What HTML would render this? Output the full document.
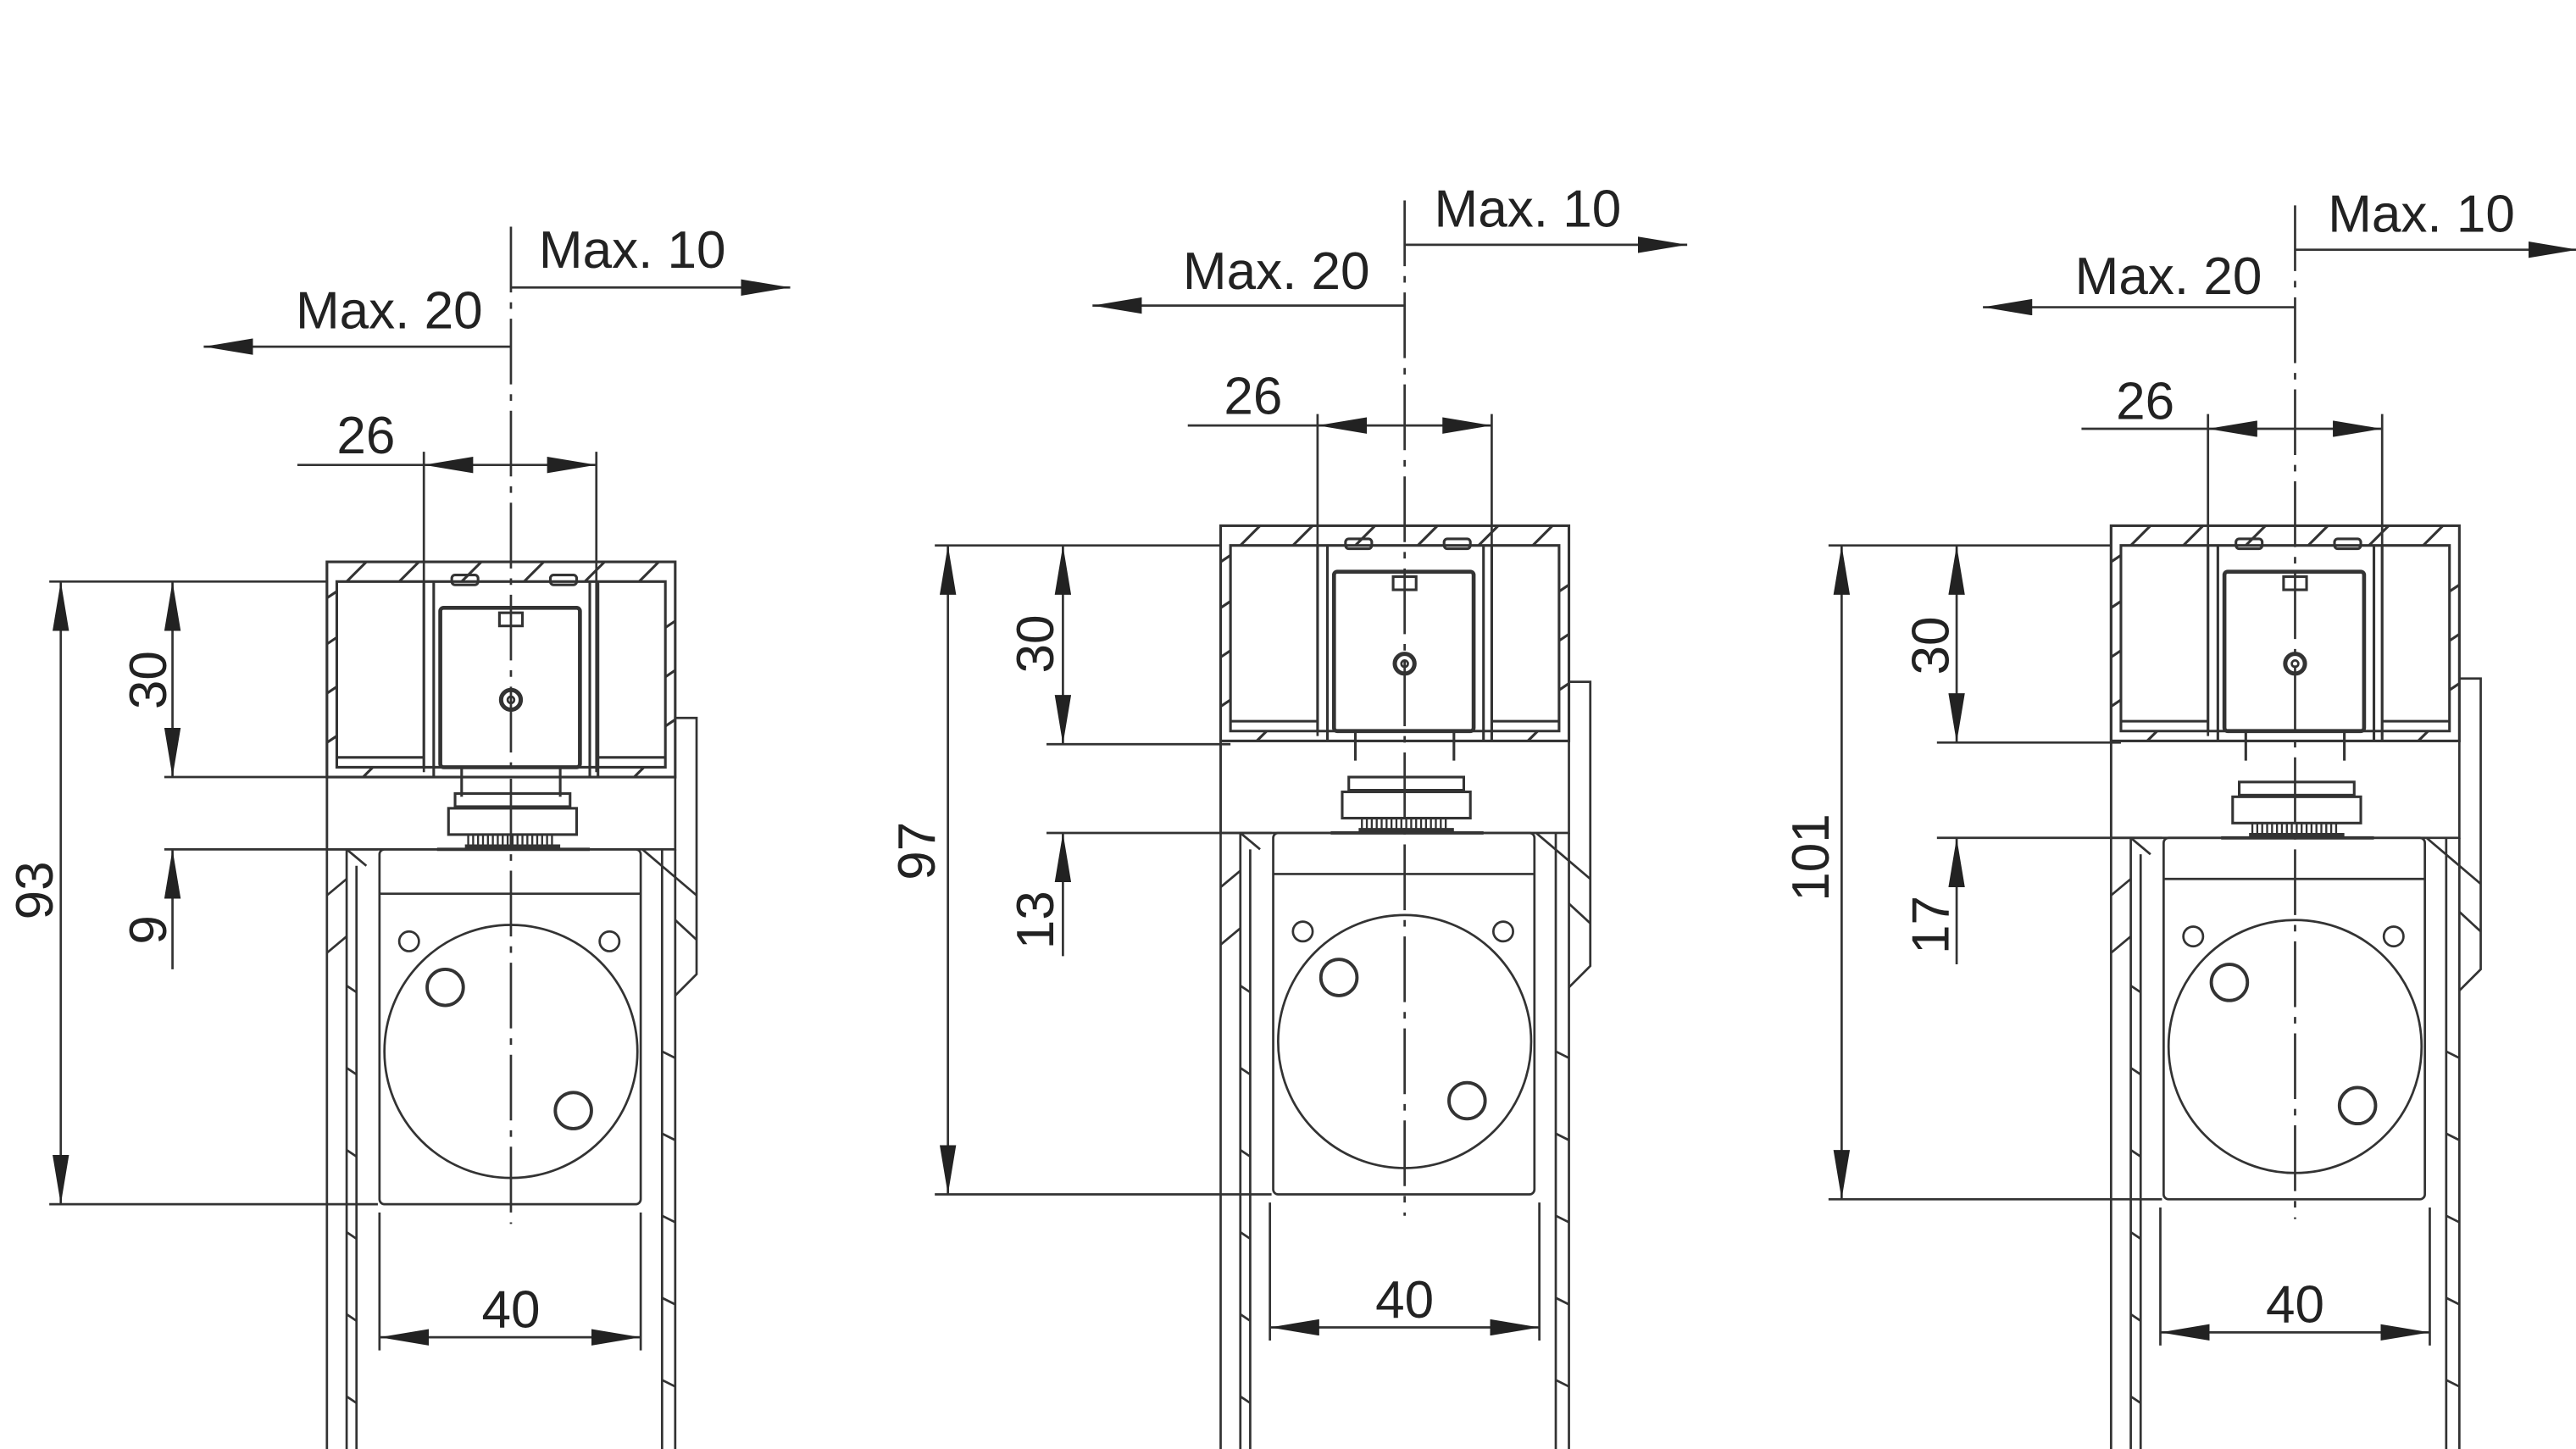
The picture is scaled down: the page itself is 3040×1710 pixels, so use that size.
<!DOCTYPE html>
<html><head><meta charset="utf-8"><style>
html,body{margin:0;padding:0;background:#fff}
svg{display:block}
text{font-family:"Liberation Sans",sans-serif;font-size:32px;fill:#222}
</style></head><body>
<svg width="3040" height="1710" viewBox="0 0 1568 882" xmlns="http://www.w3.org/2000/svg">
<defs>
<marker id="a" viewBox="0 0 30 10" refX="30" refY="5" markerWidth="30" markerHeight="10" markerUnits="userSpaceOnUse" orient="auto-start-reverse"><path d="M0,0 L30,5 L0,10z" fill="#222"/></marker>
<g id="top" fill="none" stroke="#333" stroke-width="1.6">
  <rect x="-112" y="0" width="212" height="131"/>
  <path d="M-106,12 H94 V125 H-106 Z"/>
  <path d="M-53,12 V125 M-47,12 V131 M53,12 V131 M48,12 V131"/>
  <path d="M-106,119 H-53 M53,119 H94"/>
  <path d="M-100,12 L-88,0 M-68,12 L-56,0 M-30,12 L-18,0 M8,12 L20,0 M45,12 L57,0 M78,12 L90,0"/>
  <path d="M-112,22 L-106,18 M-112,50 L-106,46 M-112,80 L-106,76 M-112,110 L-106,106 M94,40 L100,36 M94,70 L100,66 M94,100 L100,96 M-90,131 L-84,125 M75,131 L81,125"/>
  <rect x="-36" y="8" width="16" height="6" rx="2"/><rect x="24" y="8" width="16" height="6" rx="2"/>
  <rect x="-43" y="28" width="85" height="97" rx="2" stroke-width="2.4"/>
  <rect x="-7" y="31" width="14" height="8"/>
  <circle cx="0" cy="84" r="6" stroke-width="2.6"/><circle cx="0" cy="84" r="2" stroke-width="1.4"/>
  <path d="M-30,125 V143 M30,125 V143"/>
</g>
<g id="bot" fill="none" stroke="#333" stroke-width="1.4">
  <circle cx="0" cy="-93" r="77"/>
  <circle cx="-62" cy="-160" r="6"/><circle cx="60" cy="-160" r="6"/>
  <circle cx="-40" cy="-132" r="11" stroke-width="2"/><circle cx="38" cy="-57" r="11" stroke-width="2"/>
</g>
<g id="gear" fill="none" stroke="#333" stroke-width="1.6">
  <rect x="-34" y="-34" width="70" height="8"/>
  <rect x="-38" y="-25" width="78" height="16"/>
  <path d="M-26,-9 V-2 M-23,-9 V-2 M-20,-9 V-2 M-17,-9 V-2 M-14,-9 V-2 M-11,-9 V-2 M-8,-9 V-2 M-5,-9 V-2 M-2,-9 V-2 M1,-9 V-2 M4,-9 V-2 M7,-9 V-2 M10,-9 V-2 M13,-9 V-2 M16,-9 V-2 M19,-9 V-2 M22,-9 V-2 M25,-9 V-2" stroke-width="1.2"/>
  <path d="M-45,0 H48 M-28,-2 H30" stroke-width="2"/>
</g>
</defs>

<!-- ============ Drawing 1 ============ -->
<g transform="translate(311,0)" fill="none" stroke="#333" stroke-width="1.4">
  <use href="#top" transform="translate(0,342)"/>
  <rect x="-112" y="473" width="212" height="44"/>
  <use href="#gear" transform="translate(0,517)"/>
  <!-- walls -->
  <path d="M-112,342 V882 M-100,517 V882 M-94,527 V882 M92,517 V882 M100,517 V882"/>
  <path d="M100,437 H113 V593 L100,606"/>
  <path d="M-112,545 L-100,535 M-112,580 L-100,570 M-100,517 L-88,527 M80,517 L113,545 M100,560 L113,572 M-100,600 L-94,604 M-100,650 L-94,654 M-100,700 L-94,704 M-100,750 L-94,754 M-100,800 L-94,804 M-100,850 L-94,854 M92,640 L100,644 M92,690 L100,694 M92,740 L100,744 M92,790 L100,794 M92,840 L100,844"/>
  <rect x="-80" y="517" width="159" height="216" rx="3"/>
  <path d="M-80,544 H79"/>
  <use href="#bot" transform="translate(0,733)"/>
  <!-- centerline -->
  <path d="M0,138 V745" stroke-dasharray="40,6,4,6"/>
  <!-- Max dims -->
  <path d="M0,175 H170" marker-end="url(#a)"/>
  <path d="M0,211 H-187" marker-end="url(#a)"/>
  <!-- 26 -->
  <path d="M-53,275 V470 M52,275 V470"/>
  <path d="M-130,283 H-53"/>
  <path d="M-53,283 H52" marker-start="url(#a)" marker-end="url(#a)"/>
  <!-- 40 -->
  <path d="M-80,738 V822 M79,738 V822"/>
  <path d="M-80,814 H79" marker-start="url(#a)" marker-end="url(#a)"/>
  <!-- left dims -->
  <path d="M-281,354 H-112 M-211,473 H-106 M-211,517 H-81 M-281,733 H-81"/>
  <path d="M-206,354 V473" marker-start="url(#a)" marker-end="url(#a)"/>
  <path d="M-206,590 V517" marker-end="url(#a)"/>
  <path d="M-274,354 V733" marker-start="url(#a)" marker-end="url(#a)"/>
</g>
<text x="328" y="163">Max. 10</text>
<text x="180" y="200">Max. 20</text>
<text x="205" y="276">26</text>
<text x="311" y="808" text-anchor="middle">40</text>
<text transform="translate(101,414) rotate(-90)" text-anchor="middle">30</text>
<text transform="translate(101,566) rotate(-90)" text-anchor="middle">9</text>
<text transform="translate(32,542) rotate(-90)" text-anchor="middle">93</text>

<!-- ============ Drawing 2 ============ -->
<g transform="translate(855,0)" fill="none" stroke="#333" stroke-width="1.4">
  <use href="#top" transform="translate(0,320)"/>
  <rect x="-112" y="451" width="212" height="56"/>
  <use href="#gear" transform="translate(0,507)"/>
  <path d="M-112,320 V882 M-100,507 V882 M-94,517 V882 M92,507 V882 M100,507 V882"/>
  <path d="M100,415 H113 V588 L100,601"/>
  <path d="M-112,540 L-100,530 M-112,575 L-100,565 M-100,507 L-88,517 M80,507 L113,535 M100,550 L113,562 M-100,600 L-94,604 M-100,650 L-94,654 M-100,700 L-94,704 M-100,750 L-94,754 M-100,800 L-94,804 M-100,850 L-94,854 M92,640 L100,644 M92,690 L100,694 M92,740 L100,744 M92,790 L100,794 M92,840 L100,844"/>
  <rect x="-80" y="507" width="159" height="220" rx="3"/>
  <path d="M-80,532 H79"/>
  <use href="#bot" transform="translate(0,727)"/>
  <path d="M0,122 V740" stroke-dasharray="40,6,4,6"/>
  <path d="M0,149 H172" marker-end="url(#a)"/>
  <path d="M0,186 H-190" marker-end="url(#a)"/>
  <path d="M-53,252 V448 M53,252 V448"/>
  <path d="M-132,259 H-53"/>
  <path d="M-53,259 H53" marker-start="url(#a)" marker-end="url(#a)"/>
  <path d="M-82,732 V816 M82,732 V816"/>
  <path d="M-82,808 H82" marker-start="url(#a)" marker-end="url(#a)"/>
  <path d="M-286,332 H-112 M-218,453 H-106 M-218,507 H-81 M-286,727 H-81"/>
  <path d="M-208,332 V453" marker-start="url(#a)" marker-end="url(#a)"/>
  <path d="M-208,582 V507" marker-end="url(#a)"/>
  <path d="M-278,332 V727" marker-start="url(#a)" marker-end="url(#a)"/>
</g>
<text x="873" y="138">Max. 10</text>
<text x="720" y="176">Max. 20</text>
<text x="745" y="252">26</text>
<text x="855" y="802" text-anchor="middle">40</text>
<text transform="translate(641,392) rotate(-90)" text-anchor="middle">30</text>
<text transform="translate(641,560) rotate(-90)" text-anchor="middle">13</text>
<text transform="translate(569,518) rotate(-90)" text-anchor="middle">97</text>

<!-- ============ Drawing 3 ============ -->
<g transform="translate(1397,0)" fill="none" stroke="#333" stroke-width="1.4">
  <use href="#top" transform="translate(0,320)"/>
  <rect x="-112" y="451" width="212" height="59"/>
  <use href="#gear" transform="translate(0,510)"/>
  <path d="M-112,320 V882 M-100,510 V882 M-94,520 V882 M92,510 V882 M100,510 V882"/>
  <path d="M100,413 H113 V590 L100,603"/>
  <path d="M-112,545 L-100,535 M-112,580 L-100,570 M-100,510 L-88,520 M80,510 L113,538 M100,555 L113,567 M-100,600 L-94,604 M-100,650 L-94,654 M-100,700 L-94,704 M-100,750 L-94,754 M-100,800 L-94,804 M-100,850 L-94,854 M92,640 L100,644 M92,690 L100,694 M92,740 L100,744 M92,790 L100,794 M92,840 L100,844"/>
  <rect x="-80" y="510" width="159" height="220" rx="3"/>
  <path d="M-80,535 H79"/>
  <use href="#bot" transform="translate(0,730)"/>
  <path d="M0,125 V742" stroke-dasharray="40,6,4,6"/>
  <path d="M0,152 H172" marker-end="url(#a)"/>
  <path d="M0,187 H-190" marker-end="url(#a)"/>
  <path d="M-53,252 V448 M53,252 V448"/>
  <path d="M-130,261 H-53"/>
  <path d="M-53,261 H53" marker-start="url(#a)" marker-end="url(#a)"/>
  <path d="M-82,735 V819 M82,735 V819"/>
  <path d="M-82,811 H82" marker-start="url(#a)" marker-end="url(#a)"/>
  <path d="M-284,332 H-112 M-218,452 H-106 M-218,510 H-81 M-284,730 H-81"/>
  <path d="M-206,332 V452" marker-start="url(#a)" marker-end="url(#a)"/>
  <path d="M-206,587 V510" marker-end="url(#a)"/>
  <path d="M-276,332 V730" marker-start="url(#a)" marker-end="url(#a)"/>
</g>
<text x="1417" y="141">Max. 10</text>
<text x="1263" y="179">Max. 20</text>
<text x="1288" y="255">26</text>
<text x="1397" y="805" text-anchor="middle">40</text>
<text transform="translate(1186,393) rotate(-90)" text-anchor="middle">30</text>
<text transform="translate(1186,563) rotate(-90)" text-anchor="middle">17</text>
<text transform="translate(1113,522) rotate(-90)" text-anchor="middle">101</text>
</svg>
</body></html>
